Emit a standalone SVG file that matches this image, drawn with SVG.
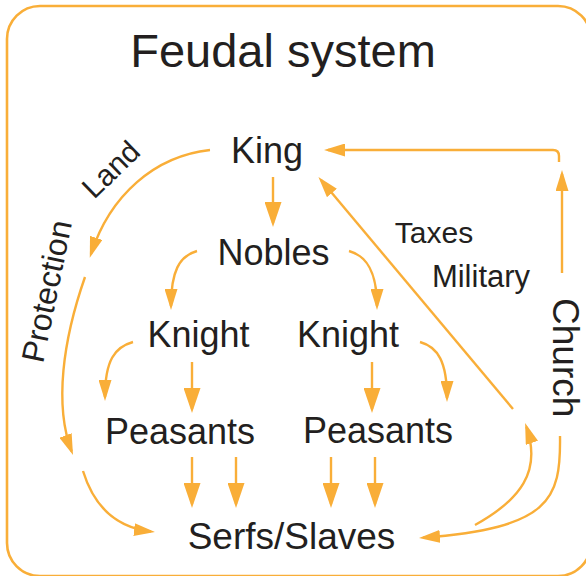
<svg xmlns="http://www.w3.org/2000/svg" width="586" height="576" viewBox="0 0 586 576">
<style>
.t{font-family:"Liberation Sans",Arial,Helvetica,sans-serif;fill:#231F20}
.c path{fill:none;stroke:#F9AE38;stroke-width:2.4}
.big{marker-end:url(#ab)}
.med{marker-end:url(#am)}
</style>
<defs>
<marker id="ab" viewBox="0 0 25 17" markerWidth="25" markerHeight="17" refX="21" refY="8.5" orient="auto" markerUnits="userSpaceOnUse"><path d="M0,0 L25,8.5 L0,17 z" fill="#F9AE38"/></marker>
<marker id="am" viewBox="0 0 21 13" markerWidth="21" markerHeight="13" refX="17" refY="6.5" orient="auto" markerUnits="userSpaceOnUse"><path d="M0,0 L21,6.5 L0,13 z" fill="#F9AE38"/></marker>
</defs>
<rect id="frame" x="7" y="6" width="584" height="570" rx="33" fill="none" stroke="#F9AE38" stroke-width="2.6"/>
<g id="title"><text class="t" x="283" y="67" font-size="47" text-anchor="middle">Feudal system</text></g>
<g id="king"><text class="t" x="267" y="163" font-size="36" text-anchor="middle">King</text></g>
<g id="nobles"><text class="t" x="273.5" y="265" font-size="36" text-anchor="middle">Nobles</text></g>
<g id="knight-left"><text class="t" x="198.5" y="347" font-size="36" text-anchor="middle">Knight</text></g>
<g id="knight-right"><text class="t" x="348" y="347" font-size="36" text-anchor="middle">Knight</text></g>
<g id="peasants-left"><text class="t" x="180" y="444" font-size="36" text-anchor="middle">Peasants</text></g>
<g id="peasants-right"><text class="t" x="378" y="443" font-size="36" text-anchor="middle">Peasants</text></g>
<g id="serfs"><text class="t" x="291.5" y="549" font-size="37" text-anchor="middle">Serfs/Slaves</text></g>
<g id="church"><text class="t" font-size="37" transform="translate(552.5,298) rotate(90)">Church</text></g>
<g id="labels">
<text class="t" x="434" y="243" font-size="30" text-anchor="middle">Taxes</text>
<text class="t" x="481" y="287" font-size="31" text-anchor="middle">Military</text>
<text class="t" font-size="30" transform="translate(94,200) rotate(-44)">Land</text>
<text class="t" font-size="32" transform="translate(43,364) rotate(-78.4)">Protection</text>
</g>
<g id="connectors" class="c">
<path class="big" d="M273,177 V223"/>
<path class="med" d="M197,251 C179,256 171,272 171,306"/>
<path class="med" d="M349,251 C367,256 377,272 377,306"/>
<path class="big" d="M192,362 V409"/>
<path class="big" d="M372,362 V409"/>
<path class="med" d="M133,342 C115,347 105,360 105,397"/>
<path class="med" d="M420,342 C438,347 447,362 447,398"/>
<path class="big" d="M192,457 V504"/>
<path class="big" d="M236,457 V504"/>
<path class="big" d="M331,457 V504"/>
<path class="big" d="M375,457 V504"/>
<path class="med" d="M210,150 C155,156 110,195 91,254"/>
<path class="med" d="M85,277 C63,340 54,405 71.6,451.3"/>
<path class="med" d="M83,471 C95,510 120,528 151,531.5"/>
<path class="med" d="M513,409 L321,180"/>
<path class="med" d="M475,525 C520,500 542,472 526.4,426.8"/>
<path class="med" d="M560,436 C561,500 550,528 423,537.7"/>
<path class="med" d="M562,273 V174"/>
<path class="med" d="M559,162 V156 Q559,150 553,150 H328"/>
</g>
</svg>
